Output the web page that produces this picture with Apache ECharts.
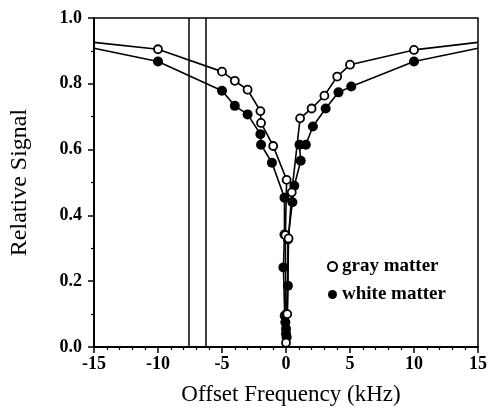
<!DOCTYPE html>
<html>
<head>
<meta charset="utf-8">
<script src="https://cdn.jsdelivr.net/npm/echarts@6/dist/echarts.min.js"></script>
<style>html,body{margin:0;padding:0;background:#fff;}#c{width:490px;height:411px;}</style>
</head>
<body>
<div id="c"></div>
<script>
// Offset frequency (kHz) and relative signal
var grayFreq = [-15, -10, -5, -4, -3, -2, -1.95, -1, 0.05, -0.05, 0, 0, 0.1, 0.2, 0.45, 1.1, 2, 3, 4, 5, 10, 15];
var graySig  = [0.926, 0.905, 0.837, 0.809, 0.782, 0.717, 0.681, 0.611, 0.508, 0.34, 0.1, 0.013, 0.1, 0.33, 0.47, 0.695, 0.725, 0.764, 0.822, 0.858, 0.903, 0.926];
var whiteFreq = [-15, -10, -5, -4, -3, -2, -1.95, -1.1, -0.12, -0.12, -0.2, -0.1, -0.05, 0, 0, 0.05, 0.15, 0.15, 0.5, 0.65, 1.15, 1.05, 1.55, 2.1, 3.1, 4.1, 5.1, 10, 15];
var whiteSig  = [0.908, 0.868, 0.779, 0.733, 0.707, 0.647, 0.615, 0.56, 0.454, 0.342, 0.242, 0.095, 0.075, 0.055, 0.04, 0.03, 0.186, 0.327, 0.44, 0.49, 0.566, 0.615, 0.615, 0.67, 0.725, 0.774, 0.792, 0.868, 0.908];
var edgeFreq = [-15, 15]; // lines run to the frame, no marker there
var markerFreq = [-7.6, -6.3];
var xTicks = [-15, -10, -5, 0, 5, 10, 15];
var yTicks = [0.0, 0.2, 0.4, 0.6, 0.8, 1.0];
var seriesNames = ['gray matter', 'white matter'];

function build(fr, sg) {
  return fr.map(function (f, i) {
    var item = { value: [f, sg[i]] };
    if (edgeFreq.indexOf(f) >= 0) item.symbol = 'none';
    return item;
  });
}

var serif = '"Liberation Serif", "Times New Roman", serif';
var chart = echarts.init(document.getElementById('c'));
chart.setOption({
  animation: false,
  backgroundColor: '#fff',
  grid: { left: 94, right: 11, top: 18, bottom: 63, show: true, borderColor: '#000', borderWidth: 1.5 },
  xAxis: {
    type: 'value', min: xTicks[0], max: xTicks[xTicks.length - 1], interval: 5,
    name: 'Offset Frequency (kHz)', nameLocation: 'middle', nameGap: 36,
    nameTextStyle: { fontFamily: serif, fontSize: 23, color: '#000', padding: [0, 0, 0, 10] },
    axisLine: { onZero: false, lineStyle: { color: '#000', width: 2 } },
    axisTick: { inside: false, length: 6, lineStyle: { color: '#000', width: 1.5 } },
    minorTick: { show: true, splitNumber: 5, length: 3, lineStyle: { color: '#000', width: 1.2 } },
    splitLine: { show: false },
    axisLabel: { fontFamily: serif, fontWeight: 'bold', fontSize: 18, color: '#000', margin: 8,
      formatter: function (v) { return String(v); } }
  },
  yAxis: {
    type: 'value', min: yTicks[0], max: yTicks[yTicks.length - 1], interval: 0.2,
    name: 'Relative Signal', nameLocation: 'middle', nameGap: 62,
    nameTextStyle: { fontFamily: serif, fontSize: 24, color: '#000' },
    axisLine: { onZero: false, lineStyle: { color: '#000', width: 2 } },
    axisTick: { inside: false, length: 6, lineStyle: { color: '#000', width: 1.5 } },
    minorTick: { show: true, splitNumber: 2, length: 3, lineStyle: { color: '#000', width: 1.2 } },
    splitLine: { show: false },
    axisLabel: { fontFamily: serif, fontWeight: 'bold', fontSize: 18, color: '#000', margin: 12,
      formatter: function (v) { return v.toFixed(1); } }
  },
  legend: {
    orient: 'vertical', left: 322, top: 252, itemGap: 9, itemWidth: 9, itemHeight: 9,
    textStyle: { fontFamily: serif, fontWeight: 'bold', fontSize: 19, color: '#000' },
    data: [
      { name: seriesNames[0], icon: 'circle', itemStyle: { color: '#fff', borderColor: '#000', borderWidth: 2 } },
      { name: seriesNames[1], icon: 'circle', itemStyle: { color: '#000', borderColor: '#000', borderWidth: 0 } }
    ]
  },
  series: [
    {
      name: 'markers', type: 'line', data: [], silent: true,
      markLine: { symbol: 'none', silent: true, label: { show: false },
        lineStyle: { color: '#000', width: 1.5, type: 'solid' },
        data: markerFreq.map(function (f) { return { xAxis: f }; }) }
    },
    {
      name: seriesNames[1], type: 'line', data: build(whiteFreq, whiteSig),
      symbol: 'circle', symbolSize: 10, showAllSymbol: true,
      lineStyle: { color: '#000', width: 1.6 },
      itemStyle: { color: '#000', borderColor: '#000', borderWidth: 0 }
    },
    {
      name: seriesNames[0], type: 'line', data: build(grayFreq, graySig),
      symbol: 'circle', symbolSize: 8, showAllSymbol: true,
      lineStyle: { color: '#000', width: 1.6 },
      itemStyle: { color: '#fff', borderColor: '#000', borderWidth: 1.8 }
    }
  ]
});
</script>
</body>
</html>
